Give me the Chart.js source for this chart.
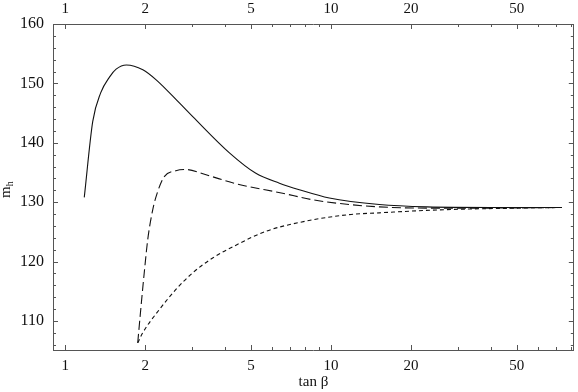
<!DOCTYPE html>
<html>
<head>
<meta charset="utf-8">
<script src="https://cdn.jsdelivr.net/npm/chart.js@4/dist/chart.umd.min.js"></script>
<style>
  body { margin: 0; background: #fff; }
  #box { width: 578px; height: 392px; }
</style>
</head>
<body>
<div id="box"><canvas id="myChart" width="578" height="392"></canvas></div>
<script>
// values (tan beta, m_h)
const tanbSolid = [1.18, 1.27, 1.36, 1.47, 1.555, 1.70, 1.96, 2.2, 2.69, 3.02, 4.15, 5.2, 6.4, 7.6, 9.86, 15.2, 23, 40, 74];
const mSolid = [130.8, 143.6, 148.4, 151.1, 152.4, 153.1, 152.3, 150.6, 146.7, 144.4, 138.3, 134.9, 133.2, 132.1, 130.7, 129.6, 129.2, 129.1, 129.1];

const tanbLong = [1.875, 1.93, 1.99, 2.045, 2.135, 2.23, 2.36, 2.61, 2.85, 3.39, 4.39, 6.58, 8.53, 11.7, 15.2, 23, 40, 74];
const mLong = [106.3, 112.5, 118.7, 123.7, 128.7, 131.8, 134.3, 135.3, 135.5, 134.6, 133.1, 131.5, 130.4, 129.6, 129.2, 129.0, 129.0, 129.1];

const tanbShort = [1.875, 1.958, 2.26, 2.61, 3.02, 3.59, 4.46, 5.7, 8.05, 11.7, 15.2, 25.5, 52, 74];
const mShort = [106.3, 108.0, 111.9, 115.3, 118.1, 120.6, 122.9, 125.1, 126.8, 127.9, 128.2, 128.7, 129.0, 129.1];

const xTicks = [1, 2, 3, 4, 5, 6, 7, 8, 9, 10, 20, 30, 40, 50, 60, 70, 80];
const xLabels = [1, 2, 5, 10, 20, 50];
const yTicks = [106, 108, 110, 112, 114, 116, 118, 120, 122, 124, 126, 128, 130, 132, 134, 136, 138, 140, 142, 144, 146, 148, 150, 152, 154, 156, 158, 160];
const yLabels = [110, 120, 130, 140, 150, 160];

function toPoints(xs, ys) {
  return xs.map((x, i) => ({ x: x, y: ys[i] }));
}

const frameColor = "#555";
const xFont = { family: "'Liberation Serif', serif", size: 15 };
const yFont = { family: "'Liberation Serif', serif", size: 16 };

// small tick marks pointing into the plot, like the original
const tickMarks = {
  id: "tickMarks",
  afterDraw(chart) {
    const ctx = chart.ctx;
    const a = chart.chartArea;
    ctx.save();
    ctx.strokeStyle = frameColor;
    ctx.lineWidth = 1;
    ctx.beginPath();
    ["x", "x2"].forEach(function (id) {
      const s = chart.scales[id];
      s.ticks.forEach(function (t) {
        const px = Math.round(s.getPixelForValue(t.value)) + 0.5;
        const len = xLabels.includes(t.value) ? 5 : 3;
        if (id === "x") {
          ctx.moveTo(px, a.bottom);
          ctx.lineTo(px, a.bottom - len);
        } else {
          ctx.moveTo(px, a.top);
          ctx.lineTo(px, a.top + len);
        }
      });
    });
    ["y", "y2"].forEach(function (id) {
      const s = chart.scales[id];
      s.ticks.forEach(function (t) {
        const py = Math.round(s.getPixelForValue(t.value)) + 0.5;
        const len = yLabels.includes(t.value) ? 5 : 3;
        if (id === "y") {
          ctx.moveTo(a.left, py);
          ctx.lineTo(a.left + len, py);
        } else {
          ctx.moveTo(a.right, py);
          ctx.lineTo(a.right - len, py);
        }
      });
    });
    ctx.stroke();

    // y axis title m_h with subscript
    ctx.fillStyle = "#111";
    ctx.translate(10, 198);
    ctx.rotate(-Math.PI / 2);
    ctx.textBaseline = "alphabetic";
    ctx.textAlign = "left";
    ctx.font = "15px 'Liberation Serif', serif";
    ctx.fillText("m", 0, 0);
    const w = ctx.measureText("m").width;
    ctx.font = "10px 'Liberation Serif', serif";
    ctx.fillText("h", w, 3);
    ctx.restore();
  },
};

function xScale(pos, size, pad) {
  return {
    type: "logarithmic",
    axis: "x",
    position: pos,
    min: 0.9,
    max: 82,
    afterBuildTicks: function (s) {
      s.ticks = xTicks.map(v => ({ value: v }));
    },
    afterFit: function (s) {
      s.height = size;
    },
    ticks: {
      autoSkip: false,
      maxRotation: 0,
      padding: pad,
      color: "#111",
      font: xFont,
      callback: v => (xLabels.includes(v) ? String(v) : ""),
    },
    grid: { display: false, drawTicks: false },
    border: { display: true, color: frameColor, width: 1 },
  };
}

function yScale(pos, size, showLabels) {
  return {
    type: "linear",
    axis: "y",
    position: pos,
    min: 105.1,
    max: 160,
    afterBuildTicks: function (s) {
      s.ticks = yTicks.map(v => ({ value: v }));
    },
    afterFit: function (s) {
      s.width = size;
    },
    ticks: {
      display: showLabels,
      autoSkip: false,
      padding: 9,
      color: "#111",
      font: yFont,
      callback: v => (yLabels.includes(v) ? String(v) : ""),
    },
    grid: { display: false, drawTicks: false },
    border: { display: true, color: frameColor, width: 1 },
  };
}

const bottomX = xScale("bottom", 42, 7);
bottomX.title = {
  display: true,
  text: "tan β",
  color: "#111",
  font: xFont,
  padding: { top: 0, bottom: 1 },
};

const chart = new Chart(document.getElementById("myChart"), {
  type: "scatter",
  data: {
    datasets: [
      {
        label: "solid",
        data: toPoints(tanbSolid, mSolid),
        showLine: true,
        borderColor: "#111",
        borderWidth: 1.1,
        pointRadius: 0,
        cubicInterpolationMode: "monotone",
      },
      {
        label: "long dash",
        data: toPoints(tanbLong, mLong),
        showLine: true,
        borderColor: "#111",
        borderWidth: 1.1,
        borderDash: [9, 4],
        pointRadius: 0,
        cubicInterpolationMode: "monotone",
      },
      {
        label: "short dash",
        data: toPoints(tanbShort, mShort),
        showLine: true,
        borderColor: "#111",
        borderWidth: 1.1,
        borderDash: [4, 3],
        pointRadius: 0,
        cubicInterpolationMode: "monotone",
      },
    ],
  },
  options: {
    responsive: false,
    animation: false,
    layout: { padding: 0 },
    plugins: {
      legend: { display: false },
      tooltip: { enabled: false },
    },
    scales: {
      x: bottomX,
      x2: xScale("top", 24, 6),
      y: yScale("left", 53, true),
      y2: yScale("right", 3, false),
    },
  },
  plugins: [tickMarks],
});
</script>
</body>
</html>
